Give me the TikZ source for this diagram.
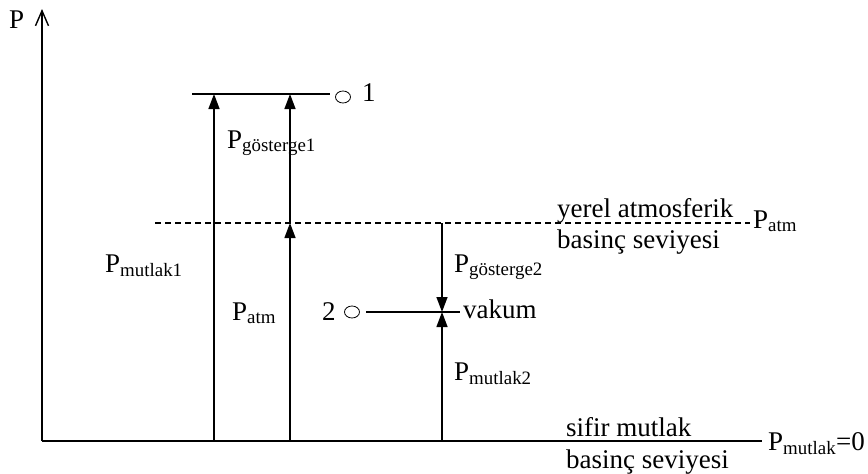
\documentclass[tikz,border=0pt]{standalone}
\usepackage{fontspec}
\setmainfont{Liberation Serif}
\usetikzlibrary{arrows.meta,shapes.geometric}
\tikzset{every node/.style={font=\fontsize{27}{32}\selectfont, inner sep=0pt},
    level/.style={line width=1.4pt},
    push/.style={line width=1.4pt, -{Triangle[width=11pt,length=15pt]}},
    axisline/.style={line width=1.4pt, -{Straight Barb[width=13pt,length=15pt,line width=1.4pt]}},
    atmline/.style={line width=1.2pt, dash pattern=on 6pt off 4pt},
    port/.style={ellipse, draw, line width=0.8pt, minimum width=15pt, minimum height=12pt},
    lbl/.style={anchor=base west},
    }

\begin{document}
\begin{tikzpicture}[x=1pt,y=-1pt]
\useasboundingbox (0,0) rectangle (868,474);
% axes
\coordinate (O) at (42,441);
\coordinate (Ptop) at (42,9);
\coordinate (zeroend) at (762,441);
\draw[axisline] (O) -- (Ptop);
\draw[level] (O) -- (zeroend);
\node[lbl] (P) at (9,28) {P};
% local atmospheric level
\coordinate (atmL) at (155,223);
\coordinate (atmR) at (750,223);
\draw[atmline] (atmL) -- (atmR);
\node[lbl] (patm) at (753,228) {P\textsubscript{atm}};
\node[lbl] (yerel) at (557,217) {yerel atmosferik};
\node[lbl] (seviye1) at (557,248) {basinç seviyesi};
% zero absolute level
\node[lbl] (sifir) at (566,436) {sifir mutlak};
\node[lbl] (seviye0) at (566,468) {basinç seviyesi};
\node[lbl] (pzero) at (768,450) {P\textsubscript{mutlak}=0};
% point 1
\coordinate (l1a) at (192,94);
\coordinate (l1b) at (330,94);
\draw[level] (l1a) -- (l1b);
\node[port] (c1) at (343,97) {};
\node[lbl] (n1) at (362,101) {1};
\coordinate (a1) at (214,441);
\coordinate (a1t) at (214,94);
\draw[push] (a1) -- (a1t);
\coordinate (a2) at (290,441);
\coordinate (a2m) at (290,223);
\coordinate (a2t) at (290,94);
\draw[push] (a2) -- (a2m);
\draw[push] (a2m) -- (a2t);
\node[lbl] (pg1) at (227,148) {P\textsubscript{gösterge1}};
\node[lbl] (pm1) at (105,272) {P\textsubscript{mutlak1}};
\node[lbl] (pa) at (232,320) {P\textsubscript{atm}};
% point 2
\coordinate (l2a) at (366,312);
\coordinate (l2b) at (460,312);
\draw[level] (l2a) -- (l2b);
\node[port] (c2) at (352,312) {};
\node[lbl] (n2) at (322,320) {2};
\node[lbl] (vakum) at (463,318) {vakum};
\coordinate (b) at (442,441);
\coordinate (bm) at (442,312);
\coordinate (bt) at (442,223);
\draw[push] (bt) -- (bm);
\draw[push] (b) -- (bm);
\node[lbl] (pg2) at (454,272) {P\textsubscript{gösterge2}};
\node[lbl] (pm2) at (454,380) {P\textsubscript{mutlak2}};
\end{tikzpicture}
\end{document}
